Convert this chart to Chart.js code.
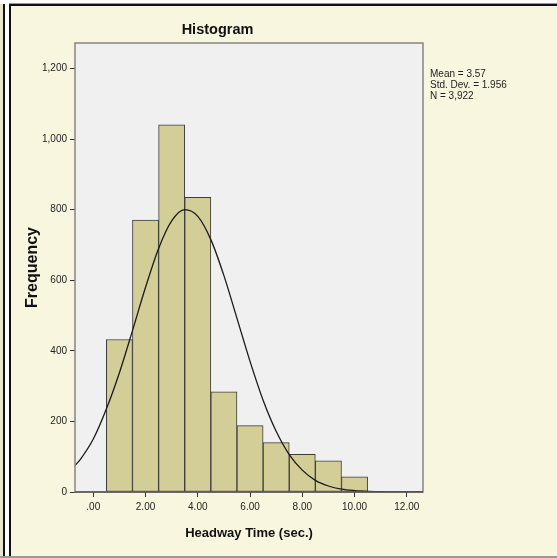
<!DOCTYPE html>
<html>
<head>
<meta charset="utf-8">
<script src="https://cdn.jsdelivr.net/npm/chart.js@4/dist/chart.umd.min.js"></script>
<style>
  html, body { margin: 0; padding: 0; background: #ffffff; }
  #wrap { position: relative; width: 557px; height: 558px; overflow: hidden; }
  .f { position: absolute; }
  canvas { position: absolute; left: 0; top: 0; }
</style>
</head>
<body>
<div id="wrap">
  <div class="f" style="left:0;top:4px;width:3px;height:554px;background:#e9e6cc;"></div>
  <div class="f" style="left:3px;top:4px;width:2px;height:554px;background:#111;"></div>
  <div class="f" style="left:9px;top:3px;width:548px;height:1px;background:#9a9a9a;"></div>
  <div class="f" style="left:11px;top:6px;width:546px;height:552px;background:#f8f6de;"></div>
  <div class="f" style="left:9px;top:4px;width:548px;height:2px;background:#111;"></div>
  <div class="f" style="left:9px;top:4px;width:2px;height:554px;background:#111;"></div>
  <div class="f" style="left:0;top:556px;width:557px;height:2px;background:#9a9a9a;"></div>
  <canvas id="c" width="557" height="558"></canvas>
</div>
<script>
// ---- data ----
const binCenters = [1, 2, 3, 4, 5, 6, 7, 8, 9, 10];
const frequencies = [432, 770, 1040, 835, 284, 188, 140, 107, 88, 43];
const curveX = [-0.7, -0.5, 0, 0.5, 1, 1.5, 2, 2.5, 3, 3.5, 4, 4.5, 5, 5.5, 6, 6.5, 7, 7.5, 8, 8.5, 9, 9.5, 10, 10.5, 11, 11.5, 12, 12.62];
const curveY = [75, 92, 150, 235, 338, 457, 580, 690, 768, 800, 781, 715, 613, 492, 370, 260, 172, 106, 62, 33, 17, 8, 4, 2, 1, 0, 0, 0];
const statsLines = ["Mean = 3.57", "Std. Dev. = 1.956", "N = 3,922"];
const chartTitle = "Histogram";
const xTitle = "Headway Time (sec.)";
const yTitle = "Frequency";

const FONT = "'Liberation Sans', Arial, sans-serif";

const plotBg = {
  id: 'plotBg',
  beforeDraw(chart) {
    const {ctx, chartArea: a} = chart;
    ctx.save();
    ctx.fillStyle = '#f0f0f0';
    ctx.fillRect(a.left, a.top, a.right - a.left, a.bottom - a.top);
    ctx.restore();
  },
  afterDraw(chart) {
    const {ctx, chartArea: a} = chart;
    ctx.save();
    ctx.strokeStyle = '#858585';
    ctx.lineWidth = 1.5;
    ctx.strokeRect(a.left, a.top, a.right - a.left, a.bottom - a.top);
    ctx.strokeStyle = '#333';
    ctx.lineWidth = 1.2;
    ctx.beginPath();
    ctx.moveTo(a.left, a.bottom); ctx.lineTo(a.right, a.bottom);
    ctx.stroke();
    // stats annotation
    ctx.fillStyle = '#222';
    ctx.font = '10px ' + FONT;
    ctx.textBaseline = 'middle';
    ctx.textAlign = 'left';
    statsLines.forEach((s, i) => ctx.fillText(s, a.right + 7, 74 + i * 11));
    ctx.restore();
  }
};

new Chart(document.getElementById('c'), {
  type: 'bar',
  data: {
    datasets: [
      {
        type: 'line',
        label: 'Normal',
        data: curveX.map((x, i) => ({x: x, y: curveY[i]})),
        borderColor: '#1a1a1a',
        borderWidth: 1.3,
        pointRadius: 0,
        fill: false,
        cubicInterpolationMode: 'monotone',
        order: 0
      },
      {
        type: 'bar',
        label: 'Frequency',
        data: binCenters.map((x, i) => ({x: x, y: frequencies[i]})),
        backgroundColor: '#d3ce97',
        borderColor: '#3c3c3c',
        borderWidth: 1,
        borderSkipped: false,
        barPercentage: 1.0,
        categoryPercentage: 1.0,
        order: 1
      }
    ]
  },
  options: {
    responsive: false,
    animation: false,
    devicePixelRatio: 1,
    layout: { padding: { left: 12, right: 134, top: 0, bottom: 8 } },
    plugins: {
      legend: { display: false },
      tooltip: { enabled: false },
      title: {
        display: true,
        text: chartTitle,
        color: '#111',
        font: { family: FONT, size: 14.5, weight: 'bold' },
        padding: { top: 21.3, bottom: 4.3 }
      }
    },
    scales: {
      x: {
        type: 'linear',
        min: -0.7,
        max: 12.62,
        offset: false,
        ticks: {
          stepSize: 2,
          includeBounds: false,
          color: '#222',
          padding: 4,
          maxRotation: 0,
          font: { family: FONT, size: 10 },
          callback: (v) => v === 0 ? '.00' : Number(v).toFixed(2)
        },
        grid: { drawOnChartArea: false, offset: false, tickLength: 5, color: '#333', lineWidth: 1 },
        border: { display: false },
        title: {
          display: true,
          text: xTitle,
          color: '#111',
          font: { family: FONT, size: 13, weight: 'bold' },
          padding: { top: 0, bottom: 9.2 }
        },
        afterFit: (s) => { s.height = 58; }
      },
      y: {
        type: 'linear',
        min: 0,
        max: 1272,
        ticks: {
          stepSize: 200,
          includeBounds: false,
          color: '#222',
          padding: 3,
          font: { family: FONT, size: 10 },
          callback: (v) => Number(v).toLocaleString('en-US')
        },
        grid: { drawOnChartArea: false, tickLength: 5, color: '#333', lineWidth: 1 },
        border: { display: false },
        title: {
          display: true,
          text: yTitle,
          color: '#111',
          font: { family: FONT, size: 16, weight: 'bold' },
          padding: { top: 11.4, bottom: 0 }
        },
        afterFit: (s) => { s.width = 63; }
      }
    }
  },
  plugins: [plotBg]
});
</script>
</body>
</html>
